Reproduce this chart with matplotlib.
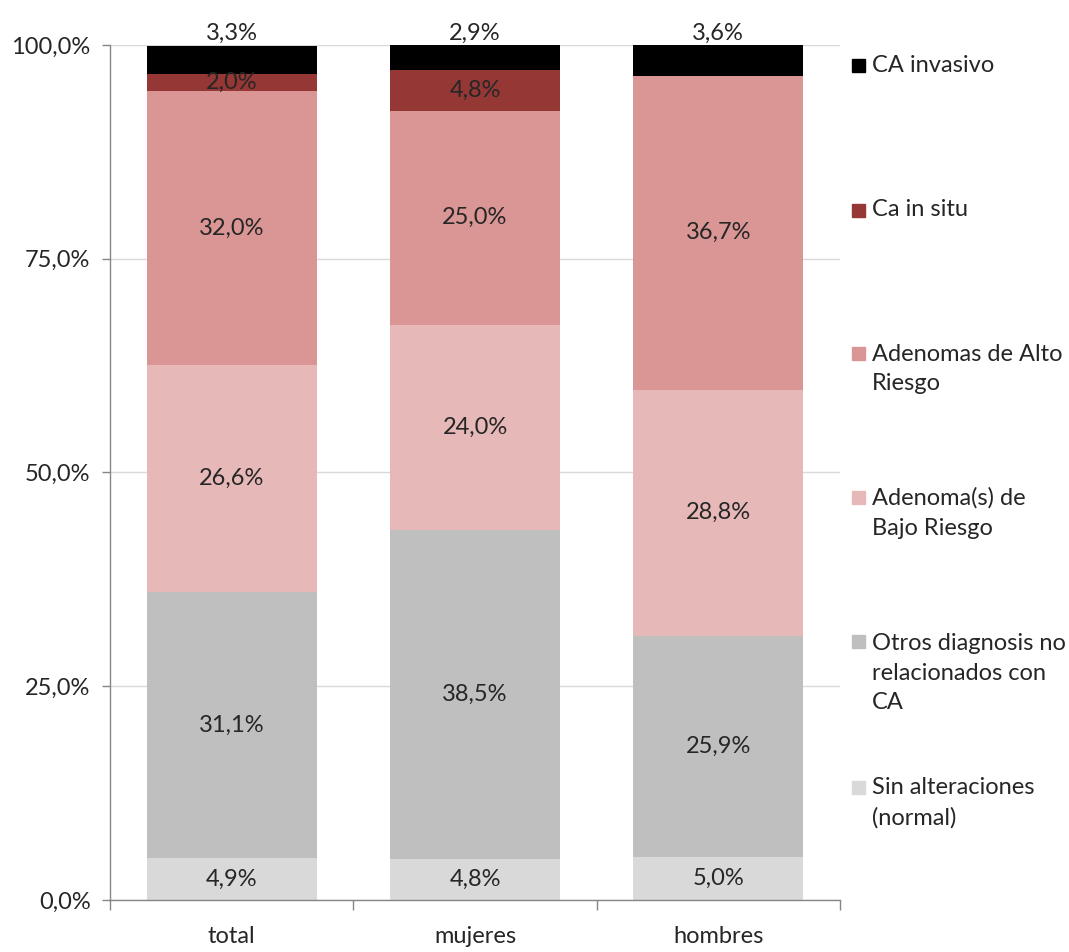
import matplotlib.pyplot as plt
from matplotlib.patches import Rectangle
from matplotlib.ticker import FixedLocator, FuncFormatter

plt.rcParams['font.family'] = ['Lato', 'DejaVu Sans']

groups = ['total', 'mujeres', 'hombres']

# percentages per diagnosis, bottom to top of each bar
sin_alteraciones = [4.9, 4.8, 5.0]
otros_diagnosis = [31.1, 38.5, 25.9]
adenoma_bajo = [26.6, 24.0, 28.8]
adenoma_alto = [32.0, 25.0, 36.7]
ca_in_situ = [2.0, 4.8, 0.0]
ca_invasivo = [3.3, 2.9, 3.6]

series = [
    ('Sin alteraciones\n(normal)', sin_alteraciones, '#D9D9D9'),
    ('Otros diagnosis no\nrelacionados con\nCA', otros_diagnosis, '#BFBFBF'),
    ('Adenoma(s) de\nBajo Riesgo', adenoma_bajo, '#E6B9B8'),
    ('Adenomas de Alto\nRiesgo', adenoma_alto, '#D99694'),
    ('Ca in situ', ca_in_situ, '#953735'),
    ('CA invasivo', ca_invasivo, '#000000'),
]

FS = 17
TXT = '#262626'

W, H = 1069, 952
fig = plt.figure(figsize=(W / 100, H / 100), dpi=100)
ax = fig.add_axes([110 / W, 52 / H, 730 / W, 855 / H])

x = list(range(len(groups)))
bottoms = [0.0] * len(groups)
for name, vals, color in series:
    ax.bar(x, vals, bottom=bottoms, width=0.7, color=color, zorder=2)
    for i, v in enumerate(vals):
        if v <= 0:
            continue
        label = f'{v:.1f}%'.replace('.', ',')
        if name == 'CA invasivo':
            # top segment labelled just above the bar
            ax.annotate(label, (i, 100), xytext=(0, 1), textcoords='offset points',
                        ha='center', va='bottom', fontsize=FS, color=TXT, zorder=3)
        else:
            ax.text(i, bottoms[i] + v / 2, label, ha='center', va='center',
                    fontsize=FS, color=TXT, zorder=3)
    bottoms = [b + v for b, v in zip(bottoms, vals)]

ax.set_xlim(-0.5, 2.5)
ax.set_ylim(0, 100)
ax.set_yticks([0, 25, 50, 75, 100])
ax.yaxis.set_major_formatter(FuncFormatter(lambda v, p: f'{v:.1f}%'.replace('.', ',')))
ax.yaxis.grid(True, color='#D9D9D9', linewidth=1, zorder=0)
ax.set_axisbelow(True)

ax.set_xticks(x)
ax.set_xticklabels(groups)
ax.xaxis.set_minor_locator(FixedLocator([-0.5, 0.5, 1.5, 2.5]))
ax.tick_params(axis='x', which='major', length=0, pad=19, labelsize=FS, colors=TXT)
ax.tick_params(axis='x', which='minor', length=7, width=1, color='#868686')
ax.tick_params(axis='y', length=6, width=1, color='#868686', pad=8, labelsize=FS,
               labelcolor=TXT)

for side in ['top', 'right']:
    ax.spines[side].set_visible(False)
for side in ['left', 'bottom']:
    ax.spines[side].set_color('#868686')
    ax.spines[side].set_linewidth(1)

# legend entries laid out down the right side, top item first
legend_y = [65, 210, 369, 513, 673, 803]
for (name, vals, color), yc in zip(reversed(series), legend_y):
    first_line = yc - name.count('\n') * 16
    fig.add_artist(Rectangle((852 / W, 1 - (first_line + 7) / H), 13 / W, 13 / H,
                             transform=fig.transFigure, color=color))
    fig.text(872 / W, 1 - yc / H, name, ha='left', va='center', fontsize=FS,
             color=TXT, linespacing=1.5)

fig.savefig('out.png', dpi=100)
